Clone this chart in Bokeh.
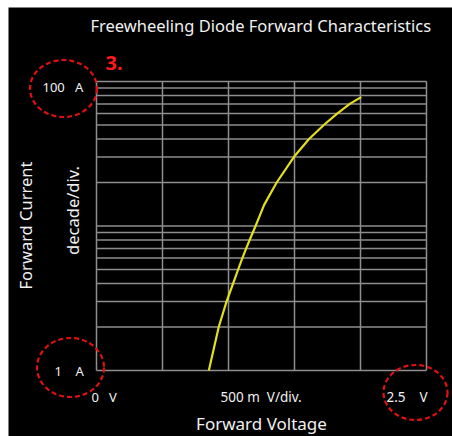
import numpy as np
from bokeh.plotting import figure
from bokeh.models import Range1d
from bokeh.core.properties import value
from bokeh.embed import file_html
from bokeh.resources import INLINE

# ---- data ----
volt = [0.851, 0.926, 0.985, 1.035, 1.073, 1.105, 1.134, 1.16, 1.205, 1.27,
        1.365, 1.495, 1.61, 1.722, 1.823, 1.919, 2.005]
amp = [1, 2, 3, 4, 5, 6, 7, 8, 10, 14, 20, 30, 40, 50, 60, 70, 78]

v_ticks = [0.0, 0.5, 1.0, 1.5, 2.0, 2.5]
i_ticks = [1, 2, 3, 4, 5, 6, 7, 8, 9, 10, 20, 30, 40, 50, 60, 70, 80, 90, 100]
v_min, v_max = 0.0, 2.5
i_min, i_max = 1, 100

# ---- layout (figure pixels) ----
W, H = 452, 436
LEFT, TOP = 8, 7
PX_V = 132.0          # pixels per volt
PX_DEC = 144.5        # pixels per decade
X0, Y0 = 96.0, 370.0  # pixel position of (0 V, 1 A)


def dx(px):
    return (px - X0) / PX_V


def dy(py):
    return 10 ** ((Y0 - py) / PX_DEC)


p = figure(width=W, height=H, output_backend="svg", toolbar_location=None,
           x_range=Range1d(dx(LEFT), dx(W)),
           y_range=Range1d(dy(H), dy(TOP)),
           y_axis_type="log",
           min_border_left=LEFT, min_border_top=TOP,
           min_border_right=0, min_border_bottom=0,
           background_fill_color="black", border_fill_color="white",
           outline_line_color=None)
p.axis.visible = False
p.grid.visible = False

grid_col = "#8e8e8e"
p.segment(x0=v_ticks, y0=[i_min] * len(v_ticks), x1=v_ticks, y1=[i_max] * len(v_ticks),
          line_color=grid_col, line_width=1.5)
p.segment(x0=[v_min] * len(i_ticks), y0=i_ticks, x1=[v_max] * len(i_ticks), y1=i_ticks,
          line_color=grid_col, line_width=1.5)

p.line(volt, amp, line_color="#e4df1c", line_width=2.2, line_join="round")

font = value("Noto Sans")
white = "#f0f0f0"
NB = "\u00a0"


def txt(x, y, s, size, color=white, angle=0.0, style="normal", align="center"):
    p.text(x=[dx(x)], y=[dy(y)], text=[s], text_font=font, text_font_size=size,
           text_color=color, text_align=align, text_baseline="middle",
           angle=angle, text_font_style=style)


txt(90, 25, "Freewheeling Diode Forward Characteristics", "16.5px", align="left")
txt(105, 62, "3.", "20px", color="#ff1a1a", style="bold", align="left")
txt(42, 86, "100" + NB * 3 + "A", "13px", align="left")
txt(54, 370, "1" + NB * 4 + "A", "13px", align="left")
txt(91, 396, "0" + NB * 3 + "V", "13px", align="left")
txt(220, 396, "500 m" + NB * 2 + "V/div.", "13.5px", align="left")
txt(386, 396, "2.5" + NB * 4 + "V", "13.5px", align="left")
txt(261, 423, "Forward Voltage", "17px")
txt(25, 225, "Forward Current", "16.5px", angle=np.pi / 2)
txt(72, 210, "decade/div.", "16.5px", angle=np.pi / 2)

ell_x = [dx(63), dx(70), dx(415)]
ell_y = [dy(88), dy(367), dy(392)]
ell_w = [67, 67, 64]
ell_h = [57, 59, 55]
p.ellipse(x=ell_x, y=ell_y, width=ell_w, height=ell_h,
          width_units="screen", height_units="screen",
          fill_color=None, line_color="#e01010", line_width=2.2, line_dash="5 3")

open("out.html", "w").write(file_html(p, INLINE))
